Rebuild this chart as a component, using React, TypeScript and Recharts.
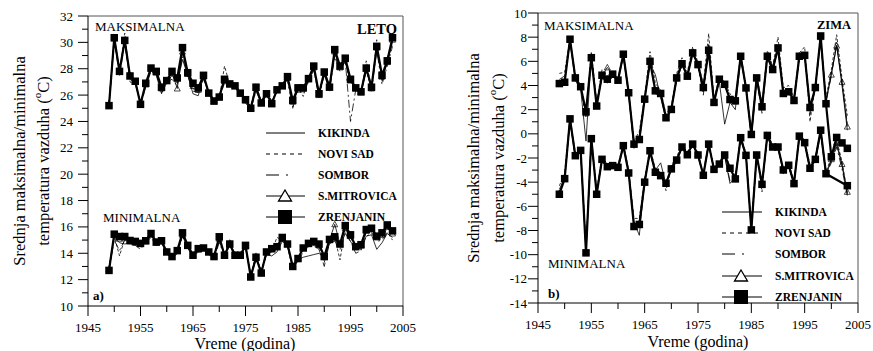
import React from 'react';
import { LineChart, Line, XAxis, YAxis, ReferenceLine } from 'recharts';

const FONT = "'Liberation Serif', 'Times New Roman', 'DejaVu Serif', serif";

const years = [1949,1950,1951,1952,1953,1954,1955,1956,1957,1958,1959,1960,1961,1962,1963,1964,1965,1966,1967,1968,1969,1970,1971,1972,1973,1974,1975,1976,1977,1978,1979,1980,1981,1982,1983,1984,1985,1986,1987,1988,1989,1990,1991,1992,1993,1994,1995,1996,1997,1998,1999,2000,2001,2002,2003];

const stations = ['KIKINDA', 'NOVI SAD', 'SOMBOR', 'S.MITROVICA', 'ZRENJANIN'];

// LETO (summer) maximum
const letoMaxKikinda = [25.3,30.2,27.9,30.0,27.2,26.9,25.4,26.8,27.9,27.6,26.4,26.9,27.5,26.9,28.7,27.5,26.1,25.95,27.4,26.1,25.6,25.9,27.3,26.9,26.6,26.0,25.7,25.1,26.5,25.5,26.0,25.5,26.3,26.6,27.3,25.4,26.4,26.3,27.1,28.0,26.2,27.5,26.5,29.2,28.0,28.5,27.0,26.6,26.3,27.8,26.7,29.5,27.3,28.4,30.1];
const letoMaxNoviSad = [25.4,30.5,27.6,30.7,27.0,26.8,25.5,26.7,28.2,27.6,26.2,26.9,27.6,27.1,29.2,27.4,26.5,26.2,27.6,26.0,25.8,25.7,28.2,26.8,26.5,26.3,25.5,25.2,26.7,25.6,26.2,25.6,26.2,26.9,27.1,25.1,26.6,25.9,27.2,28.1,25.9,27.9,26.7,29.0,28.0,28.6,26.9,26.7,26.1,28.6,26.4,30.2,27.0,28.8,29.9];
const letoMaxSombor = [25.2,30.1,27.5,29.9,27.3,27.1,25.2,26.6,27.8,27.5,26.1,27.0,27.2,26.7,28.9,27.6,26.3,26.2,27.2,26.2,25.3,25.8,26.9,26.7,26.6,26.1,25.4,24.9,26.3,25.4,26.1,25.3,26.5,26.6,27.2,25.0,26.5,26.2,27.0,27.9,25.8,27.6,26.3,28.9,27.8,28.6,24.0,26.4,26.0,28.1,26.3,29.4,26.8,28.2,29.7];
const letoMaxMitrovica = [25.3,30.3,27.9,30.1,27.5,27.0,25.4,26.8,28.0,27.7,26.5,27.1,27.7,26.5,29.3,27.6,26.7,26.4,27.4,26.2,25.5,25.9,27.1,26.8,26.7,26.1,25.6,25.0,26.5,25.4,26.1,25.4,26.4,26.7,27.3,25.5,26.4,26.5,27.2,28.1,26.0,27.7,26.6,29.3,28.1,28.7,27.1,26.5,26.2,28.0,26.5,29.6,27.4,28.5,30.2];
const letoMaxZrenjanin = [25.2,30.35,27.8,30.15,27.45,27.05,25.3,26.9,28.05,27.8,26.6,27.1,27.8,27.3,29.6,27.7,26.9,26.55,27.5,26.15,25.55,25.85,27.2,26.85,26.7,26.15,25.65,25.0,26.6,25.4,26.1,25.35,26.4,26.7,27.4,25.6,26.55,26.55,27.25,28.2,26.1,27.75,26.6,29.45,28.2,28.8,27.2,26.55,26.25,28.05,26.6,29.7,27.5,28.6,30.35];

// LETO (summer) minimum
const letoMinKikinda = [12.8,15.2,14.8,14.7,14.8,14.8,14.6,14.9,15.3,14.9,14.8,14.0,13.7,14.1,15.3,14.4,13.8,14.2,14.3,14.0,13.8,14.9,14.0,14.6,13.9,13.9,14.4,12.4,13.6,12.7,13.9,13.8,14.1,14.9,14.6,12.9,13.5,13.7,13.8,13.9,14.0,13.6,14.7,15.0,14.6,15.5,14.9,14.3,14.4,15.3,15.4,14.3,14.8,15.5,15.2];
const letoMinNoviSad = [12.9,15.3,13.8,15.1,14.9,14.7,14.5,14.8,15.4,14.7,14.9,14.0,13.6,14.0,15.4,14.5,13.9,14.3,14.5,14.0,13.7,15.1,13.9,15.0,13.9,14.0,14.5,12.3,13.8,12.6,14.0,14.2,15.2,15.0,14.5,12.8,13.6,14.3,14.6,14.8,14.5,13.3,14.9,15.2,13.5,15.9,15.2,14.4,14.3,15.6,15.6,15.0,15.2,15.9,15.4];
const letoMinSombor = [12.7,15.0,14.2,15.0,14.7,14.6,14.3,14.8,15.2,14.6,14.8,14.0,13.6,14.0,15.3,14.4,13.7,14.1,14.2,13.9,13.6,14.8,13.8,14.6,13.8,13.8,14.4,12.3,13.5,12.6,13.9,14.1,14.3,15.0,14.5,12.9,13.4,14.1,14.5,14.6,14.3,13.0,14.8,14.9,14.3,15.6,14.9,14.0,14.2,15.3,15.5,14.9,15.0,15.6,15.0];
const letoMinMitrovica = [12.8,15.4,15.1,15.2,14.9,14.8,14.7,14.9,15.4,14.8,14.9,14.1,13.8,14.2,15.4,14.6,13.9,14.3,14.4,14.1,13.8,15.1,13.9,14.8,13.9,13.9,14.5,12.3,13.8,12.6,14.1,14.3,14.5,15.1,14.7,13.0,13.6,14.4,14.7,14.8,14.6,13.8,15.0,16.2,14.7,15.9,15.3,14.5,14.6,15.7,15.8,15.2,15.4,16.0,15.5];
const letoMinZrenjanin = [12.7,15.45,15.27,15.27,14.97,14.9,14.75,14.95,15.5,14.85,14.95,14.1,13.75,14.2,15.55,14.6,13.85,14.35,14.4,14.1,13.75,15.25,13.85,14.7,13.85,13.85,14.6,12.2,13.7,12.5,14.1,14.35,14.5,15.2,14.7,13.0,13.6,14.4,14.75,14.9,14.7,13.75,15.05,15.25,14.7,16.1,15.4,14.5,14.65,15.8,15.9,15.3,15.55,16.15,15.7];

// ZIMA (winter) maximum
const zimaMaxKikinda = [4.4,4.5,7.6,4.4,3.7,-0.6,6.5,2.5,4.6,4.2,4.7,4.5,6.4,3.2,-1.2,-0.2,3.0,5.8,4.9,3.0,1.2,2.1,4.4,5.7,4.9,6.9,5.6,3.5,7.2,2.8,4.3,0.8,2.6,2.0,6.2,3.9,-0.3,4.4,2.0,6.6,5.5,7.3,3.5,3.6,2.9,6.3,6.7,2.0,3.9,7.9,2.7,5.0,7.3,4.0,0.3];
const zimaMaxNoviSad = [5.0,5.1,7.9,4.8,4.0,1.5,6.8,2.6,5.3,4.8,5.1,4.6,6.7,3.5,-0.6,0.2,3.1,6.8,4.2,3.6,1.6,2.3,5.0,6.3,5.1,7.2,5.9,4.1,8.3,2.9,4.7,4.3,3.3,2.9,6.6,4.0,0.2,4.9,2.4,6.9,5.6,8.0,3.8,4.0,3.0,6.7,7.2,1.0,4.1,7.9,3.0,5.3,8.2,4.6,1.5];
const zimaMaxSombor = [4.5,4.8,7.7,4.7,3.8,1.3,6.5,2.4,4.9,4.6,4.9,4.3,6.5,3.3,-1.0,-0.6,2.8,6.2,3.3,3.2,1.3,2.0,4.7,5.9,4.7,6.8,5.6,3.2,7.4,2.7,4.5,4.1,3.0,2.6,6.3,3.7,-0.2,4.5,1.7,6.3,5.2,7.0,3.5,3.7,2.6,6.3,6.6,1.6,3.7,7.8,2.6,4.8,7.6,4.2,0.8];
const zimaMaxMitrovica = [4.2,4.3,7.8,4.6,3.9,1.7,6.3,2.3,4.8,5.5,4.9,4.4,6.6,3.4,-0.9,-0.5,2.9,6.0,3.6,3.3,1.4,2.0,4.6,5.8,4.8,6.7,5.7,3.8,6.9,2.6,4.5,4.1,2.8,2.7,6.4,3.8,-0.1,4.6,2.2,6.4,5.3,7.1,3.4,3.5,2.8,6.4,6.5,2.2,3.8,8.0,2.7,4.9,7.3,4.3,0.6];
const zimaMaxZrenjanin = [4.16,4.27,7.83,4.63,3.9,1.83,6.3,2.3,4.85,4.52,4.94,4.44,6.59,3.4,-0.85,-0.47,2.87,6.0,3.56,3.34,1.33,2.02,4.63,5.8,4.77,6.7,5.73,3.83,6.92,2.6,4.52,4.1,2.84,2.73,6.42,3.8,-0.05,4.63,2.24,6.42,5.32,7.11,3.34,3.48,2.76,6.42,6.5,2.18,3.83,8.1,2.49,-1.9,-0.3,-0.75,-1.2];

// ZIMA (winter) minimum
const zimaMinKikinda = [-4.6,-3.6,1.0,-2.0,-1.5,-9.6,-0.6,-4.8,-2.3,-2.8,-2.5,-2.9,-1.1,-3.1,-7.3,-8.4,-3.8,-1.6,-3.0,-2.4,-4.2,-2.7,-2.0,-1.2,-1.5,-0.9,-1.9,-3.3,-1.0,-2.8,-2.4,-1.9,-4.1,-3.6,-0.5,-1.9,-7.8,-1.9,-4.0,-0.3,-1.3,-1.2,-3.2,-2.8,-4.0,-0.4,-0.9,-2.7,-2.3,0.0,-3.4,-2.2,-0.9,-2.6,-5.0];
const zimaMinNoviSad = [-4.3,-3.3,1.4,-1.6,-1.2,-9.5,-0.2,-4.7,-1.9,-2.5,-2.4,-2.6,-0.8,-3.0,-7.0,-7.0,-3.7,-1.2,-2.9,-3.2,-4.7,-2.6,-1.9,-0.9,-1.5,-0.7,-1.6,-3.3,-0.6,-2.8,-2.3,-1.6,-2.7,-3.5,-0.2,-1.6,-7.6,-1.6,-4.8,0.0,-0.9,-0.9,-3.3,-2.4,-3.9,0.0,-0.5,-2.6,-1.9,0.4,-3.1,-2.0,-0.5,-2.3,-4.9];
const zimaMinSombor = [-4.8,-3.8,1.1,-1.9,-1.4,-9.7,-0.5,-4.9,-2.2,-2.7,-2.7,-2.8,-1.0,-3.3,-7.5,-7.8,-4.1,-1.5,-3.3,-3.5,-4.3,-3.0,-2.2,-1.2,-1.8,-0.9,-1.8,-3.5,-0.9,-3.0,-2.6,-1.8,-3.9,-3.8,-0.4,-1.8,-7.9,-1.8,-4.2,-0.2,-1.2,-1.1,-3.1,-2.7,-4.1,-0.3,-0.8,-3.1,-2.2,0.2,-3.4,-2.4,-1.1,-2.9,-5.1];
const zimaMinMitrovica = [-4.9,-3.7,1.2,-1.8,-1.4,-9.8,-0.4,-5.0,-2.1,-2.7,-2.6,-2.8,-1.0,-3.2,-7.6,-7.4,-4.0,-1.4,-3.2,-3.4,-4.1,-2.9,-2.2,-1.1,-1.7,-0.9,-1.7,-3.4,-0.9,-2.9,-2.5,-1.8,-2.9,-3.7,-0.3,-1.8,-7.9,-1.8,-4.2,-0.1,-1.1,-1.1,-3.0,-2.6,-4.1,-0.2,-0.7,-2.9,-2.1,0.3,-3.3,-2.1,-0.7,-2.5,-4.8];
const zimaMinZrenjanin = [-5.0,-3.71,1.24,-1.81,-1.37,-9.85,-0.4,-5.0,-2.11,-2.72,-2.63,-2.77,-0.98,-3.24,-7.67,-7.5,-4.0,-1.4,-3.18,-3.46,-4.09,-2.9,-2.17,-1.09,-1.73,-0.85,-1.75,-3.43,-0.85,-2.94,-2.5,-1.75,-2.85,-3.73,-0.32,-1.78,-7.95,-1.75,-4.18,-0.13,-1.09,-1.09,-2.99,-2.6,-4.12,-0.19,-0.73,-2.85,-2.11,0.3,-3.3,null,null,null,-4.29];

const xTicks = [1945,1950,1955,1960,1965,1970,1975,1980,1985,1990,1995,2000,2005];
const xTickLabels = [1945,1955,1965,1975,1985,1995,2005];
const letoYTicks = [10,11,12,13,14,15,16,17,18,19,20,21,22,23,24,25,26,27,28,29,30,31,32];
const letoYTickLabels = [10,12,14,16,18,20,22,24,26,28,30,32];
const zimaYTicks = [-14,-13,-12,-11,-10,-9,-8,-7,-6,-5,-4,-3,-2,-1,0,1,2,3,4,5,6,7,8,9,10];
const zimaYTickLabels = [-14,-12,-10,-8,-6,-4,-2,0,2,4,6,8,10];

const keys = ['k', 'n', 's', 'm', 'z'];

function buildRows(maxSeries: (number | null)[][], minSeries: (number | null)[][]) {
  return years.map((y, i) => {
    const row: any = { year: y };
    keys.forEach((k, j) => {
      row[k + 'Max'] = maxSeries[j][i];
      row[k + 'Min'] = minSeries[j][i];
    });
    return row;
  });
}

const letoRows = buildRows(
  [letoMaxKikinda, letoMaxNoviSad, letoMaxSombor, letoMaxMitrovica, letoMaxZrenjanin],
  [letoMinKikinda, letoMinNoviSad, letoMinSombor, letoMinMitrovica, letoMinZrenjanin]
);
const zimaRows = buildRows(
  [zimaMaxKikinda, zimaMaxNoviSad, zimaMaxSombor, zimaMaxMitrovica, zimaMaxZrenjanin],
  [zimaMinKikinda, zimaMinNoviSad, zimaMinSombor, zimaMinMitrovica, zimaMinZrenjanin]
);

const SquareDot = (p: any) => {
  const { cx, cy, value, index } = p;
  if (value == null || cx == null || cy == null || isNaN(cy)) return <g key={'sq' + index} />;
  return <rect key={'sq' + index} x={cx - 3.75} y={cy - 3.75} width={7.5} height={7.5} fill="#000" />;
};

const TriDot = (p: any) => {
  const { cx, cy, value, index } = p;
  if (value == null || cx == null || cy == null || isNaN(cy)) return <g key={'tr' + index} />;
  return (
    <path key={'tr' + index} d={`M${cx},${cy - 3} L${cx + 3},${cy + 2.5} L${cx - 3},${cy + 2.5} Z`} fill="none" stroke="#000" strokeWidth={0.7} />
  );
};

const textStyle = { fontFamily: FONT };

const makeXTick = (labelY: number) => (props: any) => {
  const { x, y, payload } = props;
  const v = payload.value;
  const major = xTickLabels.includes(v);
  return (
    <g>
      <line x1={x} x2={x} y1={y} y2={y + (major ? 10 : 6)} stroke="#000" strokeWidth={1} />
      {major && (
        <text x={x} y={y + labelY} textAnchor="middle" dominantBaseline="central" style={textStyle} fontSize={13} fill="#000">
          {v}
        </text>
      )}
    </g>
  );
};

const makeYTick = (labels: number[], gap: number) => (props: any) => {
  const { x, y, payload } = props;
  const v = payload.value;
  const major = labels.includes(v);
  return (
    <g>
      <line x1={x - (major ? 10 : 6)} x2={x} y1={y} y2={y} stroke="#000" strokeWidth={1} />
      {major && (
        <text x={x - 10 - gap} y={y} textAnchor="end" dominantBaseline="central" style={textStyle} fontSize={13} fill="#000">
          {v}
        </text>
      )}
    </g>
  );
};

const styles: any = {
  k: { strokeWidth: 0.8, dash: undefined },
  n: { strokeWidth: 0.8, dash: '3 2' },
  s: { strokeWidth: 0.8, dash: '8 3 2 3' },
  m: { strokeWidth: 0.8, dash: undefined },
  z: { strokeWidth: 2.2, dash: undefined },
};

function seriesLines() {
  const out: any[] = [];
  keys.forEach((k) => {
    ['Max', 'Min'].forEach((part) => {
      const st = styles[k];
      out.push(
        <Line
          key={k + part}
          type="linear"
          dataKey={k + part}
          stroke="#000"
          strokeWidth={st.strokeWidth}
          strokeDasharray={st.dash}
          dot={k === 'z' ? SquareDot : k === 'm' ? TriDot : false}
          activeDot={false}
          connectNulls
          isAnimationActive={false}
        />
      );
    });
  });
  return out;
}

function Panel(props: {
  rows: any[];
  width: number;
  yWidth: number;
  right: number;
  top: number;
  xHeight: number;
  domain: [number, number];
  yTicks: number[];
  yLabels: number[];
  yGap: number;
}) {
  const { rows, width, yWidth, right, top, xHeight, domain, yTicks, yLabels, yGap } = props;
  return (
    <LineChart width={width} height={351} data={rows} margin={{ top, right, left: 0, bottom: 0 }}>
      <XAxis
        dataKey="year"
        type="number"
        domain={[1945, 2005]}
        ticks={xTicks}
        allowDataOverflow
        height={xHeight}
        tickSize={0}
        tickMargin={0}
        tickLine={false}
        axisLine={{ stroke: '#000', strokeWidth: 1 }}
        tick={makeXTick(21)}
        interval={0}
      />
      <YAxis
        type="number"
        domain={domain}
        ticks={yTicks}
        allowDataOverflow
        width={yWidth}
        tickSize={0}
        tickMargin={0}
        tickLine={false}
        axisLine={{ stroke: '#000', strokeWidth: 1 }}
        tick={makeYTick(yLabels, yGap)}
        interval={0}
      />
      <ReferenceLine y={domain[1]} stroke="#555" strokeWidth={1} ifOverflow="extendDomain" />
      <ReferenceLine x={2005} stroke="#555" strokeWidth={1} ifOverflow="extendDomain" />
      {seriesLines()}
    </LineChart>
  );
}

function LegendBlock(props: { x0: number; x1: number; tx: number; rows: number[] }) {
  const { x0, x1, tx, rows } = props;
  const cx = x0 + 19;
  return (
    <g>
      {stations.map((name, i) => {
        const y = rows[i];
        return (
          <g key={name}>
            {i === 0 && <line x1={x0} x2={x1} y1={y} y2={y} stroke="#000" strokeWidth={1} />}
            {i === 1 && <line x1={x0} x2={x1} y1={y} y2={y} stroke="#000" strokeWidth={1} strokeDasharray="4 4" />}
            {i === 2 && <line x1={x0} x2={x1} y1={y} y2={y} stroke="#000" strokeWidth={1} strokeDasharray="13 7 2 40" />}
            {i === 3 && (
              <g>
                <line x1={x0} x2={x1} y1={y} y2={y} stroke="#000" strokeWidth={1} />
                <path d={`M${cx},${y - 6} L${cx + 6.5},${y + 5} L${cx - 6.5},${y + 5} Z`} fill="#fff" stroke="#000" strokeWidth={1.3} />
              </g>
            )}
            {i === 4 && (
              <g>
                <line x1={x0} x2={x1} y1={y} y2={y} stroke="#000" strokeWidth={1.2} />
                <rect x={cx - 7} y={y - 7} width={14} height={14} fill="#000" />
              </g>
            )}
            <text x={tx} y={y} dominantBaseline="central" style={textStyle} fontWeight="bold" fontSize={11.5} fill="#000">
              {name}
            </text>
          </g>
        );
      })}
    </g>
  );
}

function YLabel(props: { x1: number; x2: number; cy: number }) {
  const { x1, x2, cy } = props;
  return (
    <g style={textStyle} fontSize={16.5} fill="#000">
      <text transform={`translate(${x1},${cy}) rotate(-90)`} textAnchor="middle" dominantBaseline="central" style={textStyle}>
        Srednja maksimalna/minimalna
      </text>
      <text transform={`translate(${x2},${cy}) rotate(-90)`} textAnchor="middle" dominantBaseline="central" style={textStyle}>
        temperatura vazduha (<tspan fontSize={11} dy={-6}>o</tspan><tspan dy={6}>C)</tspan>
      </text>
    </g>
  );
}

export default function App() {
  return (
    <div style={{ position: 'absolute', left: 0, top: 0, width: 873, height: 351, background: '#fff', overflow: 'hidden', fontFamily: FONT }}>
      <div style={{ position: 'absolute', left: 0, top: 0 }}>
        <Panel rows={letoRows} width={440} yWidth={88} right={37} top={16} xHeight={45} domain={[10, 32]} yTicks={letoYTicks} yLabels={letoYTickLabels} yGap={5} />
      </div>
      <div style={{ position: 'absolute', left: 440, top: 0 }}>
        <Panel rows={zimaRows} width={433} yWidth={98} right={15} top={13} xHeight={48} domain={[-14, 10]} yTicks={zimaYTicks} yLabels={zimaYTickLabels} yGap={1} />
      </div>
      <svg width={873} height={351} style={{ position: 'absolute', left: 0, top: 0, pointerEvents: 'none' }}>
        <g style={textStyle} fill="#000">
          {/* left panel */}
          <text x={95} y={26} fontSize={13} dominantBaseline="central" style={textStyle}>MAKSIMALNA</text>
          <text x={397} y={29} fontSize={14.5} fontWeight="bold" textAnchor="end" dominantBaseline="central" style={textStyle}>LETO</text>
          <text x={103} y={217} fontSize={13} dominantBaseline="central" style={textStyle}>MINIMALNA</text>
          <text x={93} y={295} fontSize={13} fontWeight="bold" dominantBaseline="central" style={textStyle}>a)</text>
          <text x={245} y={343} fontSize={16} textAnchor="middle" dominantBaseline="central" style={textStyle}>Vreme (godina)</text>
          {/* right panel */}
          <text x={544} y={25} fontSize={13} dominantBaseline="central" style={textStyle}>MAKSIMALNA</text>
          <text x={851} y={25} fontSize={12.5} fontWeight="bold" textAnchor="end" dominantBaseline="central" style={textStyle}>ZIMA</text>
          <text x={548} y={263} fontSize={13} dominantBaseline="central" style={textStyle}>MINIMALNA</text>
          <text x={548} y={293} fontSize={13} fontWeight="bold" dominantBaseline="central" style={textStyle}>b)</text>
          <text x={698} y={341} fontSize={16} textAnchor="middle" dominantBaseline="central" style={textStyle}>Vreme (godina)</text>
        </g>
        <YLabel x1={19} x2={43} cy={161} />
        <YLabel x1={473} x2={498} cy={158} />
        <LegendBlock x0={266} x1={305} tx={318} rows={[133, 154, 175, 196, 217]} />
        <LegendBlock x0={722} x1={762} tx={775} rows={[212, 233, 254, 276, 297]} />
      </svg>
    </div>
  );
}
